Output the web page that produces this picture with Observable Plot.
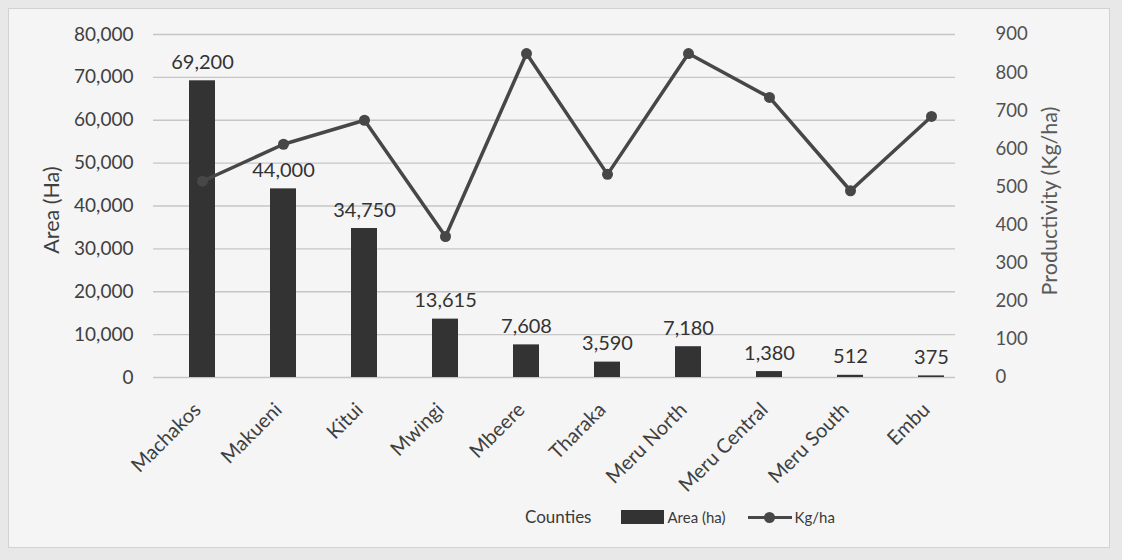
<!DOCTYPE html>
<html><head><meta charset="utf-8">
<script src="https://cdn.jsdelivr.net/npm/d3@7"></script>
<script src="https://cdn.jsdelivr.net/npm/@observablehq/plot@0.6"></script>
<style>
body{margin:0;background:#e8e8e8;font-family:Lato,"Open Sans",sans-serif;}
#wrap{position:relative;width:1122px;height:560px;overflow:hidden;}
#frame{position:absolute;left:8px;top:8px;width:1100px;height:538px;border:1px solid #d2d2d2;background:#f5f5f5;}
#chart{position:absolute;left:0;top:0;}
#legend{position:absolute;top:506px;left:525px;display:flex;align-items:center;color:#3a3a3a;font-size:15px;}
#legend .ttl{font-size:17px;margin-right:30px;}
#legend .sw{width:43px;height:14px;background:#333;margin-right:3px;}
#legend .ln{position:relative;width:44px;height:14px;margin-left:22px;margin-right:3px;}
#legend .ln:before{content:"";position:absolute;left:0;right:0;top:6px;height:3px;background:#474747;}
#legend .ln:after{content:"";position:absolute;left:16px;top:2px;width:11px;height:11px;border-radius:50%;background:#474747;}
</style></head>
<body>
<div id="wrap"><div id="frame"></div><div id="chart"></div>
<div id="legend"><span class="ttl">Counties</span><span class="sw"></span><span>Area (ha)</span><span class="ln"></span><span>Kg/ha</span></div>
</div>
<script>
const counties = ["Machakos","Makueni","Kitui","Mwingi","Mbeere","Tharaka","Meru North","Meru Central","Meru South","Embu"];
const area = [69200,44000,34750,13615,7608,3590,7180,1380,512,375];
const kgha = [515,612,675,370,850,533,850,735,490,685];
const areaTicks = [0,10000,20000,30000,40000,50000,60000,70000,80000];
const kgTicks = [0,100,200,300,400,500,600,700,800,900];
const leftTitle = "Area (Ha)";
const rightTitle = "Productivity (Kg/ha)";

const k = 80000/900;
const rows = counties.map((c,i)=>({county:c, area:area[i], kg:kgha[i]}));
const fmt = d3.format(",");

const chart = Plot.plot({
  width:1122, height:560,
  marginLeft:153, marginRight:167, marginTop:34, marginBottom:183,
  style:{background:"transparent", fontFamily:"Lato, sans-serif", fontSize:"19px", color:"#3f3f3f"},
  x:{domain:counties, paddingInner:0.676, paddingOuter:0.24, align:0.78, label:null},
  y:{domain:[0,80000], label:null},
  marks:[
    Plot.gridY(areaTicks,{stroke:"#c6c6c6", strokeOpacity:1, strokeWidth:1.3}),
    Plot.axisY(areaTicks,{anchor:"left", tickSize:0, tickPadding:20, tickFormat:fmt, label:null, fontSize:19}),
    Plot.axisY(kgTicks.map(v=>v*k),{anchor:"right", tickSize:0, tickPadding:40, textAnchor:"start", tickFormat:d=>Math.round(d/k), label:null, fill:"#505050", fontSize:18.5}),
    Plot.axisX({tickSize:0, tickRotate:-45, tickPadding:29, dx:-5, label:null, fontSize:20}),
    Plot.barY(rows,{x:"county", y:"area", fill:"#333"}),
    Plot.text(rows,{x:"county", y:"area", text:d=>fmt(d.area), dy:-12, lineAnchor:"bottom", fontSize:20, fill:"#333"}),
    Plot.line(rows,{x:"county", y:d=>d.kg*k, stroke:"#474747", strokeWidth:3.5}),
    Plot.dot(rows,{x:"county", y:d=>d.kg*k, r:5.5, fill:"#474747"}),
    Plot.text([leftTitle],{frameAnchor:"left", textAnchor:"middle", rotate:-90, dx:-101, dy:4, fontSize:21.5, fill:"#3f3f3f"}),
    Plot.text([rightTitle],{frameAnchor:"right", textAnchor:"middle", rotate:-90, dx:95, dy:-5, fontSize:21.5, fill:"#5a5a5a"})
  ]
});
document.getElementById("chart").appendChild(chart);
</script>
</body></html>
